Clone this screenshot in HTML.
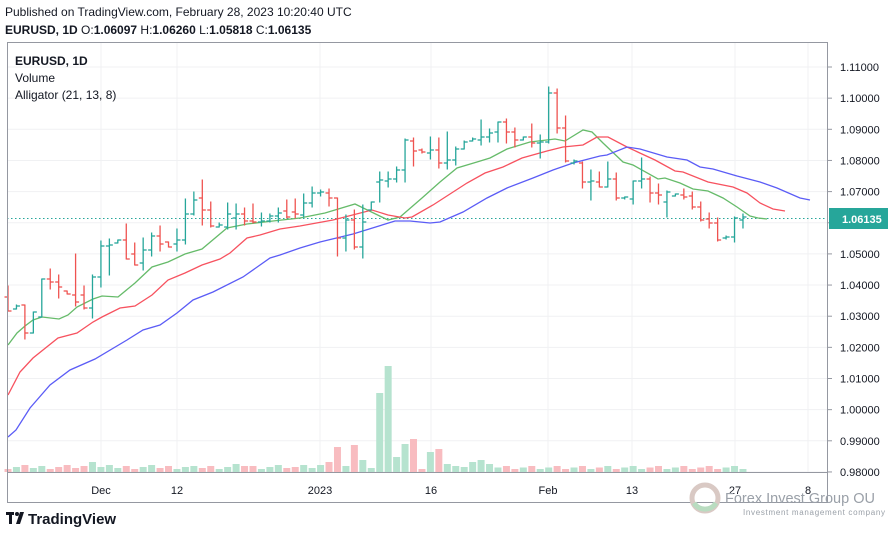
<!DOCTYPE html>
<html><head><meta charset="utf-8"><style>
html,body{margin:0;padding:0;background:#fff;width:894px;height:537px;overflow:hidden;font-family:"Liberation Sans",sans-serif}
svg{position:absolute;left:0;top:0}
</style></head><body>
<svg id="s" width="894" height="537" xmlns="http://www.w3.org/2000/svg">
<g id="grid" stroke="#f0f1f3" stroke-width="1"></g>
<g id="vol"></g>
<line x1="7" y1="218.5" x2="828" y2="218.5" stroke="#26a69a" stroke-width="1" stroke-dasharray="1.5,2.5"/>
<g id="lines" fill="none" stroke-width="1.3"></g>
<g id="bars" stroke-width="1.3"></g>
<rect x="7.5" y="42.5" width="820" height="460" fill="none" stroke="#9598a1"/>
<line x1="7" y1="472.5" x2="828" y2="472.5" stroke="#9598a1"/>
<g font-size="11" fill="#131722" id="ylab"></g>
<g font-size="11" fill="#131722" text-anchor="middle">
<text x="101" y="494">Dec</text><text x="177" y="494">12</text><text x="320" y="494">2023</text><text x="431" y="494">16</text><text x="548" y="494">Feb</text><text x="632" y="494">13</text><text x="735" y="494">27</text><text x="808" y="494">8</text>
</g>
<rect x="829" y="208" width="59" height="21" fill="#26a69a"/>
<text x="842" y="223" font-size="11" font-weight="bold" fill="#fff">1.06135</text>
<text x="5" y="16" font-size="12" fill="#131722">Published on TradingView.com, February 28, 2023 10:20:40 UTC</text>
<text x="5" y="34" font-size="12" font-weight="bold" fill="#131722">EURUSD, 1D <tspan font-weight="normal">O:</tspan>1.06097 <tspan font-weight="normal">H:</tspan>1.06260 <tspan font-weight="normal">L:</tspan>1.05818 <tspan font-weight="normal">C:</tspan>1.06135</text>
<text x="15" y="65" font-size="12" font-weight="bold" fill="#131722">EURUSD, 1D</text>
<text x="15" y="82" font-size="12" fill="#131722">Volume</text>
<text x="15" y="99" font-size="12" fill="#131722">Alligator (21, 13, 8)</text>
<g fill="#131722"><rect x="6" y="512" width="8" height="3"/><rect x="9" y="512" width="3" height="12"/><circle cx="17" cy="514" r="2"/><polygon points="20,512 24,512 20,524 16,524"/></g>
<text x="28" y="524" font-size="15" font-weight="bold" fill="#131722">TradingView</text>
<circle cx="705" cy="498" r="13" fill="none" stroke="#d9c9c4" stroke-width="5"/>
<path d="M694 503 A13 13 0 0 0 716 503" fill="none" stroke="#b9dcc0" stroke-width="5"/>
<text x="725" y="503" font-size="15" fill="#9aa0a8" textLength="150" lengthAdjust="spacingAndGlyphs">Forex Invest Group OU</text>
<text x="743" y="515" font-size="8" fill="#9aa0a8" textLength="142">Investment management company</text>
</svg>
<script>
const NS="http://www.w3.org/2000/svg";
function el(p,t,a){const e=document.createElementNS(NS,t);for(const k in a)e.setAttribute(k,a[k]);p.appendChild(e);return e;}
const g=document.getElementById('grid'),yl=document.getElementById('ylab');
for(let i=0;i<14;i++){const p=1.11-i*0.01;const y=67+i*31.15;el(g,'line',{x1:8,x2:828,y1:y,y2:y});
el(yl,'line',{x1:828,x2:832,y1:y,y2:y,stroke:'#9598a1'});const t=el(yl,'text',{x:840,y:y+4});t.textContent=p.toFixed(5);}
[101,177,320,431,548,632,735,808].forEach(x=>el(g,'line',{x1:x,x2:x,y1:43,y2:472}));
const B=[[286,311,297,311],[305,309,309,306],[305,339,305,333],[312,333,333,312],[279,317,317,279],[269,289,279,282],[275,298,282,287],[291,294,291,294],[254,306,295,302],[286,309,295,308],[275,318,308,277],[241,287,277,246],[239,275,246,245],[240,243,243,240],[224,259,240,259],[243,265,254,265],[238,270,263,250],[233,256,250,236],[226,251,236,244],[242,247,242,247],[229,251,244,240],[199,244,240,214],[192,215,214,200],[180,225,198,210],[202,227,210,226],[223,227,227,225],[203,229,227,214],[204,229,218,214],[208,225,214,221],[204,223,221,222],[213,226,222,221],[214,222,221,216],[208,222,216,213],[200,218,211,217],[199,218,212,214],[194,217,215,203],[187,207,203,193],[190,196,193,192],[189,206,193,198],[198,256,198,238],[215,251,238,220],[210,249,220,247],[205,258,247,222],[202,210,210,202],[172,202,182,180],[172,187,181,179],[167,182,179,170],[139,182,170,140],[138,166,141,151],[149,153,150,152],[137,159,153,150],[138,168,150,163],[132,169,163,160],[147,165,160,149],[141,149,149,142],[138,141,141,139],[120,145,140,137],[129,142,137,133],[122,142,132,122],[119,143,122,132],[128,147,132,140],[137,140,140,137],[124,147,137,143],[135,158,143,142],[87,143,142,93],[89,133,93,128],[116,162,128,161],[160,164,163,161],[162,188,163,182],[170,200,182,181],[172,187,182,187],[162,187,187,179],[173,200,179,198],[197,199,198,197],[181,204,199,181],[158,188,181,179],[177,202,179,193],[184,204,193,195],[191,217,202,192],[194,196,196,194],[189,199,195,197],[192,209,196,207],[202,221,207,220],[213,228,219,223],[218,241,223,240],[236,239,238,237],[217,242,237,218],[214,228,220,217]];
const V={10:10,22:6,27:8,28:6,39:25,40:6,41:27,42:12,43:4,44:79,45:106,46:15,47:28,48:33,49:3,50:20,51:23,52:8,53:6,54:5,55:10,56:12,57:8,12:7,14:6,19:6,34:5,35:7,38:10,36:4};
const bg=document.getElementById('bars'),vg=document.getElementById('vol');
B.forEach((b,i)=>{const x=8+i*8.448;const up=b[3]<=b[2];const c=up?'#26a69a':'#ef5350';
el(bg,'line',{x1:x,x2:x,y1:b[0]-0.5,y2:b[1]+0.5,stroke:c});
el(bg,'line',{x1:x-3.5,x2:x,y1:b[2],y2:b[2],stroke:c});
el(bg,'line',{x1:x,x2:x+3.5,y1:b[3],y2:b[3],stroke:c});
const h=V[i]!==undefined?V[i]:(i>57?3+(i%3)*1.5:(3+((i*7)%5)));
el(vg,'rect',{x:x-3.5,y:472-h,width:7,height:h,fill:up?'#b6e3cf':'#f8bcc0'});});
const L=el(document.getElementById('lines'),'g',{});
function pl(pts,c){el(L,'polyline',{points:pts.map(p=>p.join(',')).join(' '),stroke:c});}
pl([[8,345],[17,333],[25,326],[33,320],[42,317],[59,319],[68,315],[77,307],[93,299],[102,296],[118,297],[135,283],[152,267],[168,262],[185,254],[202,249],[227,228],[247,224],[273,221],[300,218],[325,213],[355,204],[388,220],[400,217],[422,198],[440,182],[457,168],[477,162],[490,158],[507,149],[530,142],[555,139],[565,141],[583,130],[592,132],[603,143],[623,162],[633,165],[658,179],[665,178],[680,183],[693,189],[708,191],[723,198],[737,207],[750,216],[758,218],[767,219]],'#66bb6a');
pl([[8,395],[20,372],[33,358],[58,338],[77,333],[93,322],[102,317],[120,308],[135,306],[152,295],[168,280],[185,273],[202,265],[220,259],[230,253],[247,238],[260,235],[280,229],[300,226],[333,220],[372,210],[388,215],[405,218],[412,217],[433,205],[467,183],[485,173],[503,167],[522,158],[547,151],[563,147],[583,145],[597,137],[608,137],[627,147],[642,154],[655,160],[675,171],[683,172],[708,182],[733,187],[747,193],[760,203],[773,209],[785,211]],'#f7525f');
pl([[8,437],[16,430],[30,408],[50,385],[70,370],[95,359],[127,340],[143,330],[160,325],[177,313],[193,300],[213,292],[243,277],[270,258],[280,255],[300,248],[320,242],[353,234],[395,221],[410,221],[430,223],[440,222],[463,212],[487,198],[507,188],[533,178],[553,170],[573,163],[600,156],[607,155],[627,147],[640,149],[667,157],[687,160],[700,167],[713,169],[737,176],[760,182],[777,188],[800,198],[810,200]],'#5b5cf6');
</script>
</body></html>
